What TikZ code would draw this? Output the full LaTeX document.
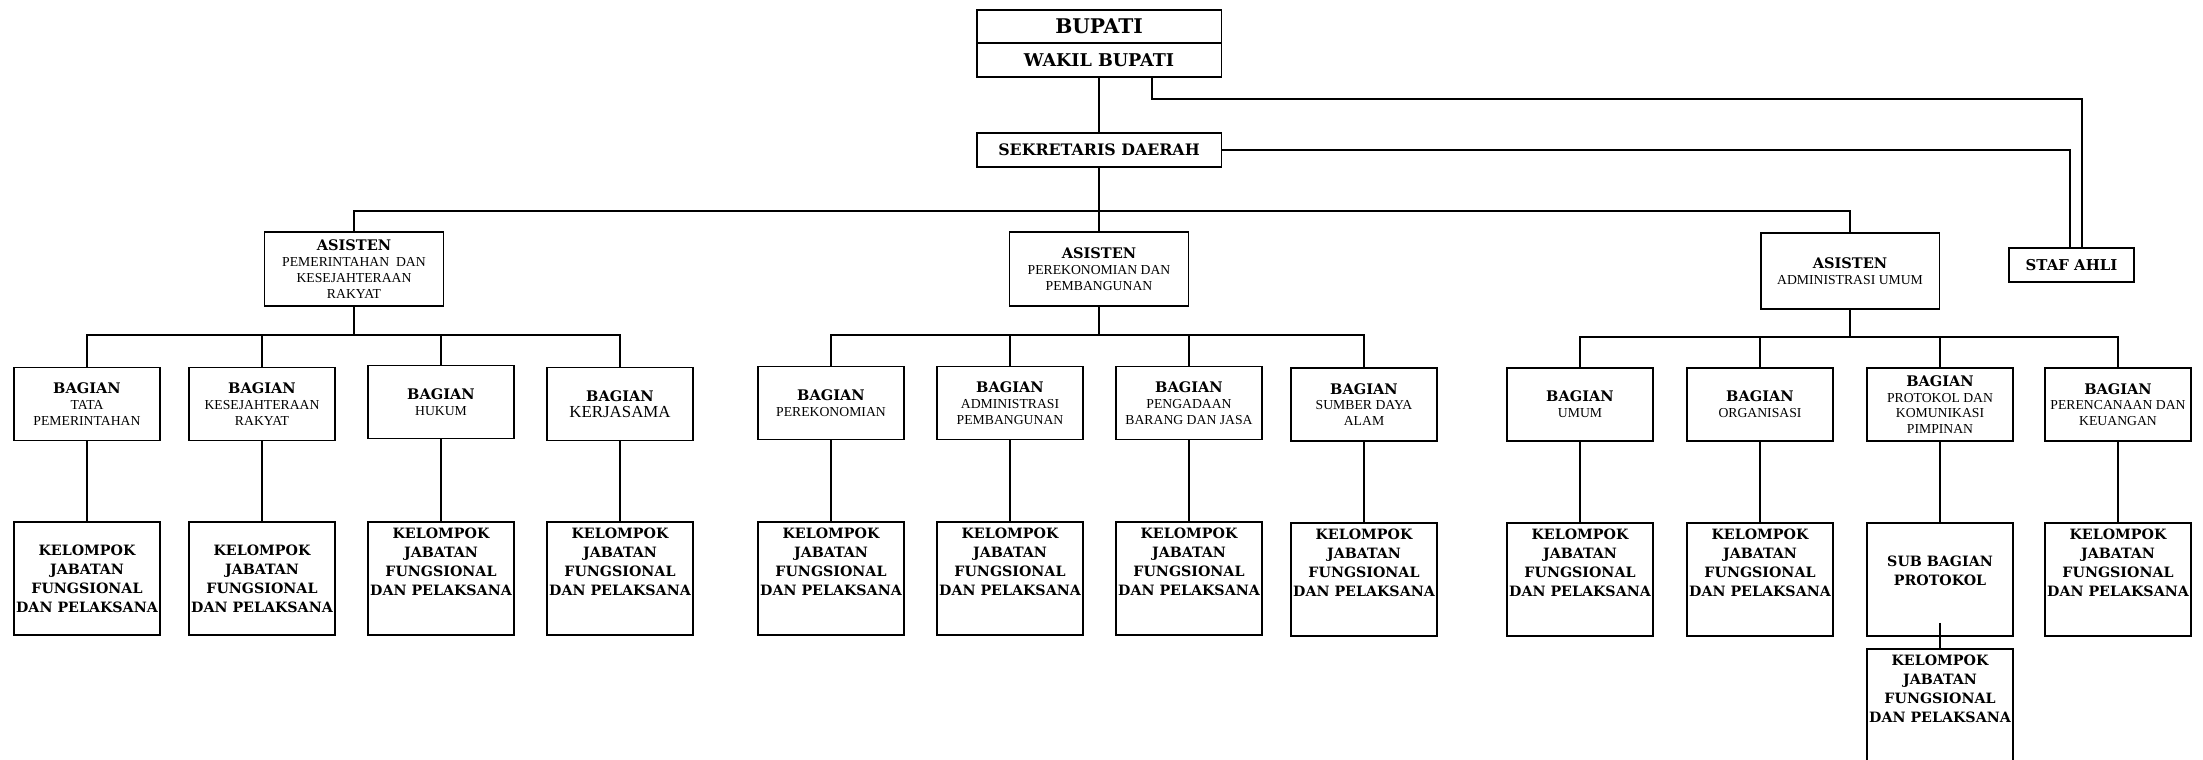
\documentclass[tikz,border=0pt]{standalone}
\usepackage{fontspec}
\setmainfont{Liberation Serif}
\newfontfamily\bk{DejaVu Serif}
\usepackage{tikz}
\usetikzlibrary{calc}
\newcommand\judul[1]{{\bk\bfseries\fontsize{8.3}{9}\selectfont #1}}
\newcommand\kjf{KELOMPOK\\JABATAN\\FUNGSIONAL\\DAN PELAKSANA}

\begin{document}
\begin{tikzpicture}[x=0.02cm,y=-0.02cm,line width=1.1pt,
pim/.style={draw,align=center,inner sep=0pt,minimum width=4.9cm,minimum height=0.68cm,font=\bk\bfseries},
asis/.style={draw,align=center,inner sep=0pt,minimum width=3.58cm,minimum height=1.48cm,font=\fontsize{7.8}{9}\selectfont},
bag/.style={asis,minimum width=2.92cm,minimum height=1.46cm},
kel/.style={draw,align=center,inner sep=0pt,minimum width=2.92cm,minimum height=2.26cm,font=\bk\bfseries\fontsize{8.1}{10.8}\selectfont},
kelt/.style={kel,text depth=19pt}]
\useasboundingbox[fill=white](0,0)rectangle(2203,760);
\node[pim,minimum height=0.66cm,font=\bk\bfseries\fontsize{11.5}{12}\selectfont](bupati)at(1099,26.5){BUPATI};
\node[pim,font=\bk\bfseries\fontsize{10}{12}\selectfont](wakil)at(1099,60){WAKIL BUPATI};
\node[pim,font=\bk\bfseries\fontsize{9}{11}\selectfont](sekda)at(1099,150){SEKRETARIS DAERAH};
\node[pim,minimum width=2.5cm,font=\bk\bfseries\fontsize{8.5}{10}\selectfont](staf)at(2071.5,265){STAF AHLI};
\node[asis](as1)at(354,269){\judul{ASISTEN}\\PEMERINTAHAN~~DAN\\KESEJAHTERAAN\\RAKYAT};
\node[asis](as2)at(1099,269){\judul{ASISTEN}\\PEREKONOMIAN DAN\\PEMBANGUNAN};
\node[asis,minimum height=1.52cm](as3)at(1850,271){\judul{ASISTEN}\\ADMINISTRASI UMUM};
\node[bag](b11)at(87,404){\judul{BAGIAN}\\TATA\\PEMERINTAHAN};
\node[bag](b12)at(262,404){\judul{BAGIAN}\\KESEJAHTERAAN\\RAKYAT};
\node[bag](b13)at(441,402){\judul{BAGIAN}\\HUKUM};
\node[bag](b14)at(620,404){\judul{BAGIAN}\\{\fontsize{9.6}{11}\selectfont KERJASAMA}};
\node[bag](b21)at(831,403){\judul{BAGIAN}\\PEREKONOMIAN};
\node[bag](b22)at(1010,403){\judul{BAGIAN}\\ADMINISTRASI\\PEMBANGUNAN};
\node[bag](b23)at(1189,403){\judul{BAGIAN}\\PENGADAAN\\BARANG DAN JASA};
\node[bag](b24)at(1364,404.5){\judul{BAGIAN}\\SUMBER DAYA\\ALAM};
\node[bag](b31)at(1580,404.5){\judul{BAGIAN}\\UMUM};
\node[bag](b32)at(1760,404.5){\judul{BAGIAN}\\ORGANISASI};
\node[bag](b33)at(1940,404.5){\judul{BAGIAN}\\PROTOKOL DAN\\KOMUNIKASI\\PIMPINAN};
\node[bag](b34)at(2118,404.5){\judul{BAGIAN}\\PERENCANAAN DAN\\KEUANGAN};
\node[kel](k11)at(87,578.5){\kjf};
\node[kel](k12)at(262,578.5){\kjf};
\node[kelt](k13)at(441,578.5){\kjf};
\node[kelt](k14)at(620,578.5){\kjf};
\node[kelt](k21)at(831,578.5){\kjf};
\node[kelt](k22)at(1010,578.5){\kjf};
\node[kelt](k23)at(1189,578.5){\kjf};
\node[kelt](k24)at(1364,579.5){\kjf};
\node[kelt](k31)at(1580,579.5){\kjf};
\node[kelt](k32)at(1760,579.5){\kjf};
\node[kel,text depth=9.7pt](sub)at(1940,579.5){SUB BAGIAN\\PROTOKOL};
\node[kelt](k34)at(2118,579.5){\kjf};
\node[kel,minimum height=2.8cm,text depth=35pt](k35)at(1940,719){\kjf};
\draw(wakil.south)--(sekda.north);
\coordinate(jw)at(1152,99);
\draw(jw|-wakil.south)--(jw)-|($(staf.north)+(10.5,0)$);
\draw(sekda.east)-|($(staf.north)+(-1.5,0)$);
\coordinate(bar0)at(1099,211);
\coordinate(bar1)at(354,335);
\coordinate(bar2)at(1099,335);
\coordinate(bar3)at(1850,337);
\draw(sekda.south)--(as2.north);
\draw(as1.north)|-(bar0)-|(as3.north);
\foreach \g in {1,2,3}{
\draw(as\g.south)--(bar\g);
\draw(b\g1.north)|-(bar\g)-|(b\g4.north);
\foreach \j in {2,3}\draw(b\g\j.north)--(b\g\j.north|-bar\g);
}
\foreach \n in {11,12,13,14,21,22,23,24,31,32,34}\draw(b\n.south)--(k\n.north);
\draw(b33.south)--(sub.north);
\draw([yshift=0.28cm]sub.south)--(k35.north);
\end{tikzpicture}
\end{document}
